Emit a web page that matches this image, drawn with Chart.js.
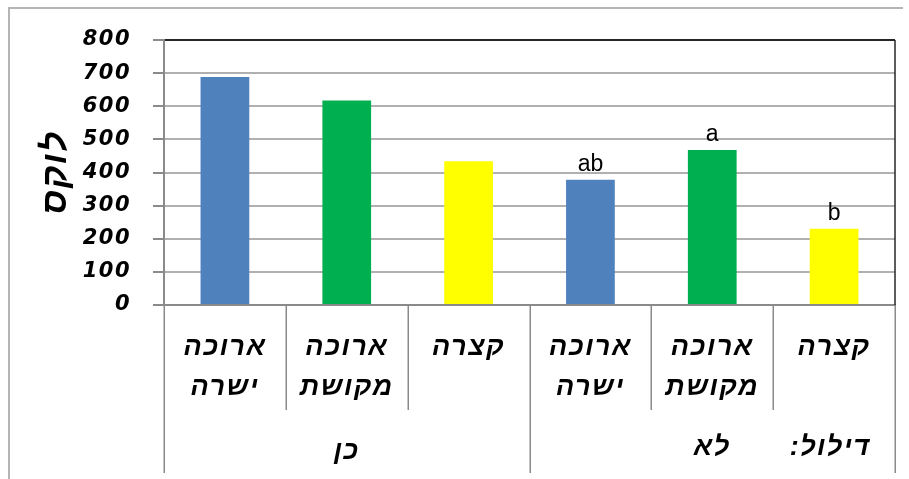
<!DOCTYPE html>
<html lang="he">
<head>
<meta charset="utf-8">
<script src="https://cdn.jsdelivr.net/npm/chart.js@4.4.1/dist/chart.umd.min.js"></script>
<style>
  html, body { margin: 0; padding: 0; background: #fff; }
  #wrap { width: 909px; height: 479px; position: relative; }
</style>
</head>
<body>
<div id="wrap"><canvas id="chart"></canvas></div>
<script>
// -------- Data --------
const categories = [
  ['ארוכה', 'ישרה'], ['ארוכה', 'מקושת'], ['קצרה'],
  ['ארוכה', 'ישרה'], ['ארוכה', 'מקושת'], ['קצרה']
];
const groups = ['כן', 'לא'];
const groupSize = 3;
const factorLabel = 'דילול:';
const luxValues = [688, 617, 434, 378, 468, 230];
const sigLetters = ['', '', '', 'ab', 'a', 'b'];
const barColors = ['#4F81BD', '#00B050', '#FFFF00', '#4F81BD', '#00B050', '#FFFF00'];
const yTitle = 'לוקס';
const yMin = 0, yMax = 800, yStep = 100;

// -------- Styles --------
const HEB_FONT = '"Liberation Sans", "DejaVu Sans", sans-serif';
const GRID = '#b0b0b0';
const AXIS = '#8a8a8a';

// -------- Plugin: frame, separators, group labels, letters --------
const extras = {
  id: 'extras',
  beforeDraw(chart) {
    // the original font is widely spaced
    chart.ctx.letterSpacing = '1.5px';
  },
  afterDraw(chart) {
    const { ctx, chartArea: ca, scales: { x } } = chart;
    ctx.save();

    // outer frame (top + left)
    ctx.strokeStyle = '#b4b4b4';
    ctx.lineWidth = 2;
    ctx.beginPath();
    ctx.moveTo(9, 479); ctx.lineTo(9, 8); ctx.lineTo(903, 8);
    ctx.stroke();

    // plot right border
    ctx.strokeStyle = '#262626';
    ctx.lineWidth = 1.5;
    ctx.beginPath();
    ctx.moveTo(ca.right, ca.top); ctx.lineTo(ca.right, ca.bottom);
    ctx.stroke();

    // category separators
    const n = categories.length;
    const edge = (i) => {
      if (i === 0) return ca.left;
      if (i === n) return ca.right;
      return (x.getPixelForValue(i - 1) + x.getPixelForValue(i)) / 2;
    };
    ctx.strokeStyle = AXIS;
    ctx.lineWidth = 1.5;
    for (let i = 0; i <= n; i++) {
      const px = Math.round(edge(i)) + 0.25;
      const long = i % groupSize === 0;
      ctx.beginPath();
      ctx.moveTo(px, ca.bottom);
      ctx.lineTo(px, ca.bottom + (long ? 168 : 105));
      ctx.stroke();
    }

    // group labels
    ctx.fillStyle = '#000';
    ctx.textAlign = 'center';
    ctx.textBaseline = 'middle';
    ctx.direction = 'rtl';
    ctx.font = `italic bold 27px ${HEB_FONT}`;
    groups.forEach((g, gi) => {
      const cx = (edge(gi * groupSize) + edge((gi + 1) * groupSize)) / 2;
      ctx.fillText(g, cx, ca.bottom + (gi === 0 ? 147 : 143));
    });
    ctx.fillText(factorLabel, x.getPixelForValue(n - 1) - 4, ca.bottom + 143);

    // significance letters
    ctx.direction = 'ltr';
    ctx.letterSpacing = '0px';
    ctx.font = `23px ${HEB_FONT}`;
    ctx.textBaseline = 'alphabetic';
    chart.getDatasetMeta(0).data.forEach((bar, i) => {
      if (sigLetters[i]) ctx.fillText(sigLetters[i], bar.x, bar.y - 9);
    });

    ctx.restore();
  }
};

// -------- Chart --------
new Chart(document.getElementById('chart'), {
  type: 'bar',
  data: {
    labels: categories,
    datasets: [{
      data: luxValues,
      backgroundColor: barColors,
      borderWidth: 0,
      categoryPercentage: 1,
      barPercentage: 0.4
    }]
  },
  options: {
    responsive: true,
    maintainAspectRatio: false,
    devicePixelRatio: 1,
    animation: false,
    layout: { padding: { top: 40, right: 14, left: 0, bottom: 0 } },
    plugins: { legend: { display: false }, tooltip: { enabled: false } },
    scales: {
      x: {
        afterFit: (s) => { s.height = 174; },
        grid: { drawOnChartArea: false, drawTicks: false },
        border: { color: AXIS, width: 2 },
        ticks: {
          padding: 23,
          color: '#000',
          font: { family: HEB_FONT, size: 27, style: 'italic', weight: 'bold', lineHeight: '40px' }
        }
      },
      y: {
        min: yMin, max: yMax,
        afterFit: (s) => { s.width = 164; },
        grid: {
          color: (c) => (c.tick && c.tick.value === yMax ? '#262626' : GRID),
          lineWidth: 2,
          tickColor: AXIS,
          tickLength: 11
        },
        border: { color: AXIS, width: 2 },
        ticks: {
          stepSize: yStep,
          padding: 22,
          color: '#000',
          font: { family: '"DejaVu Sans", sans-serif', size: 21, style: 'italic', weight: 'bold' }
        },
        title: {
          display: true,
          text: yTitle,
          color: '#000',
          padding: { top: 35, bottom: 0 },
          font: { family: HEB_FONT, size: 35, style: 'italic', weight: 'bold' }
        }
      }
    }
  },
  plugins: [extras]
});
</script>
</body>
</html>
